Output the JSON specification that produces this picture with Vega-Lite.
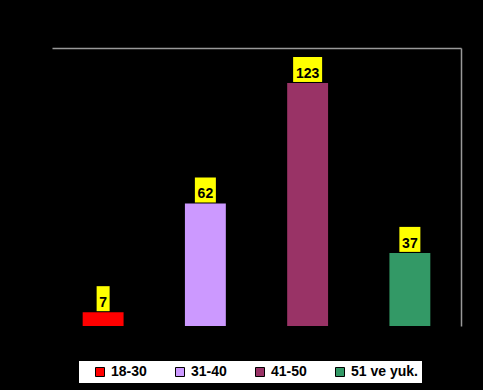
{
  "$schema": "https://vega.github.io/schema/vega-lite/v6.json",
  "width": 409,
  "height": 278,
  "autosize": {"type": "none"},
  "padding": {"left": 52, "top": 48, "right": 22, "bottom": 64},
  "background": "#000000",
  "config": {
    "view": {"stroke": null},
    "font": "Liberation Sans"
  },
  "data": {
    "values": [
      {"group": "18-30", "value": 7},
      {"group": "31-40", "value": 62},
      {"group": "41-50", "value": 123},
      {"group": "51 ve yuk.", "value": 37}
    ]
  },
  "encoding": {
    "x": {
      "field": "group",
      "type": "nominal",
      "sort": null,
      "scale": {"paddingInner": 0.6, "paddingOuter": 0.3},
      "axis": {"orient": "top", "title": null, "labels": false, "ticks": false, "domainColor": "#999999", "domainWidth": 1.5, "grid": false}
    }
  },
  "layer": [
    {
      "mark": {"type": "bar"},
      "encoding": {
        "y": {
          "field": "value",
          "type": "quantitative",
          "scale": {"domain": [0, 140.7], "nice": false},
          "axis": {"orient": "right", "title": null, "labels": false, "ticks": false, "grid": false, "domainColor": "#999999", "domainWidth": 1.5}
        },
        "color": {
          "field": "group",
          "type": "nominal",
          "sort": null,
          "scale": {"range": ["#FF0000", "#CC99FF", "#993366", "#339966"]},
          "legend": {
            "orient": "none",
            "legendX": 27,
            "legendY": 313,
            "direction": "horizontal",
            "title": null,
            "fillColor": "#FFFFFF",
            "padding": 4,
            "columnPadding": 16,
            "symbolOffset": 10,
            "symbolType": "square",
            "symbolSize": 81,
            "symbolStrokeColor": "#000000",
            "symbolStrokeWidth": 1,
            "labelOffset": 4,
            "labelFont": "Liberation Sans",
            "labelFontSize": 14,
            "labelFontWeight": "bold",
            "labelColor": "#000000"
          }
        }
      }
    },
    {
      "mark": {"type": "bar", "color": "#FFFF00", "yOffset": -1, "y2Offset": -26},
      "encoding": {
        "y": {"field": "value", "type": "quantitative"},
        "y2": {"field": "value"},
        "size": {
          "field": "value",
          "type": "quantitative",
          "scale": {"type": "threshold", "domain": [10, 100], "range": [13, 21, 29]},
          "legend": null
        }
      }
    },
    {
      "mark": {"type": "text", "baseline": "alphabetic", "dy": -5, "font": "Liberation Sans", "fontSize": 14, "fontWeight": "bold", "color": "#000000"},
      "encoding": {
        "y": {"field": "value", "type": "quantitative"},
        "text": {"field": "value", "type": "quantitative"}
      }
    }
  ]
}
